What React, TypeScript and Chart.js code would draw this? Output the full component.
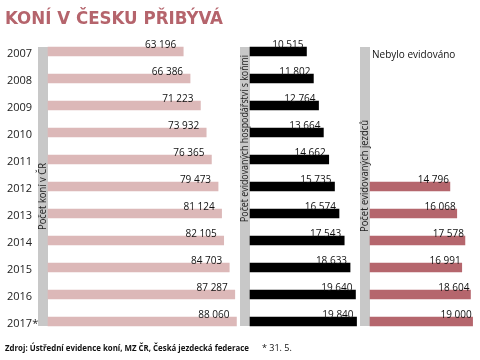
import React, { useEffect, useRef } from 'react';
import { Chart, registerables } from 'chart.js';

Chart.register(...registerables);

const years = ['2007', '2008', '2009', '2010', '2011', '2012', '2013', '2014', '2015', '2016', '2017*'];
const horses = [63196, 66386, 71223, 73932, 76365, 79473, 81124, 82105, 84703, 87287, 88060];
const farms = [10515, 11802, 12764, 13664, 14662, 15735, 16574, 17543, 18633, 19640, 19840];
const riders = [null, null, null, null, null, 14796, 16068, 17578, 16991, 18604, 19000];
const panelTitles = ['Počet koní v ČR', 'Počet evidovaných hospodářství s koňmi', 'Počet evidovaných jezdců'];
const chartTitle = 'KONÍ V ČESKU PŘIBÝVÁ';
const sourceText = 'Zdroj: Ústřední evidence koní, MZ ČR, Česká jezdecká federace';
const noteText = '* 31. 5.';
const missingText = 'Nebylo evidováno';

const FONT = '"Open Sans", "DejaVu Sans", sans-serif';
const BAR_T = 9;
const LABEL_OFFSETS = [7, 3, 1];
const TITLE_BOTTOMS = [230, 222, 232];
const TITLE_LENGTHS = [67, 167, 112];

const fmt = (n: number) => String(n).replace(/\B(?=(\d{3})+(?!\d))/g, ' ');

function fitText(ctx: CanvasRenderingContext2D, text: string, x: number, y: number, width: number) {
  const w = ctx.measureText(text).width;
  ctx.save();
  ctx.translate(x, y);
  ctx.scale(width / w, 1);
  ctx.fillText(text, 0, 0);
  ctx.restore();
}

const decor = {
  id: 'decor',
  beforeDatasetsDraw(chart: any) {
    const ctx = chart.ctx;
    const y = chart.scales.y;
    const top = y.getPixelForValue(0) - BAR_T / 2;
    const bottom = y.getPixelForValue(years.length - 1) + BAR_T / 2;
    ['x1', 'x2', 'x3'].forEach((id, i) => {
      const x0 = chart.scales[id].getPixelForValue(0);
      ctx.save();
      ctx.fillStyle = '#c8c8c8';
      ctx.fillRect(x0 - 10, top, 10, bottom - top);
      ctx.translate(x0 - 5, TITLE_BOTTOMS[i]);
      ctx.rotate(-Math.PI / 2);
      ctx.font = '10px ' + FONT;
      ctx.fillStyle = '#222';
      ctx.textAlign = 'left';
      ctx.textBaseline = 'middle';
      fitText(ctx, panelTitles[i], 0, 0.5, TITLE_LENGTHS[i]);
      ctx.restore();
    });
  },
  afterDatasetsDraw(chart: any) {
    const ctx = chart.ctx;
    ctx.save();
    ctx.font = '10px ' + FONT;
    ctx.fillStyle = '#111';
    ctx.textAlign = 'right';
    ctx.textBaseline = 'alphabetic';
    chart.data.datasets.forEach((ds: any, di: number) => {
      const meta = chart.getDatasetMeta(di);
      meta.data.forEach((el: any, i: number) => {
        const v = ds.data[i];
        if (v === null || v === undefined) return;
        ctx.fillText(fmt(v), el.x - LABEL_OFFSETS[di], el.y - BAR_T / 2 + 0.5);
      });
    });
    const x0 = chart.scales.x3.getPixelForValue(0);
    ctx.textAlign = 'left';
    ctx.fillText(missingText, x0 + 2, chart.scales.y.getPixelForValue(0) + 6);
    ctx.restore();
  },
  afterDraw(chart: any) {
    const ctx = chart.ctx;
    ctx.save();
    ctx.textAlign = 'left';
    ctx.textBaseline = 'alphabetic';
    ctx.fillStyle = '#b5646c';
    ctx.font = 'bold 17px "DejaVu Sans Condensed", "DejaVu Sans", sans-serif';
    fitText(ctx, chartTitle, 5, 24, 218);
    ctx.fillStyle = '#111';
    ctx.font = 'bold 8.5px ' + FONT;
    fitText(ctx, sourceText, 5, 351, 244);
    ctx.font = '9px ' + FONT;
    ctx.fillText(noteText, 262, 351);
    ctx.restore();
  },
};

export default function App() {
  const ref = useRef<HTMLCanvasElement>(null);
  useEffect(() => {
    if (!ref.current) return;
    const chart = new Chart(ref.current, {
      type: 'bar',
      data: {
        labels: years,
        datasets: [
          { data: horses, xAxisID: 'x1', backgroundColor: '#dcb8b8', grouped: false, barThickness: BAR_T } as any,
          { data: farms, xAxisID: 'x2', backgroundColor: '#000000', grouped: false, barThickness: BAR_T } as any,
          { data: riders, xAxisID: 'x3', backgroundColor: '#b5666d', grouped: false, barThickness: BAR_T } as any,
        ],
      },
      options: {
        indexAxis: 'y',
        animation: false,
        responsive: false,
        events: [],
        layout: { padding: { left: 7, right: 0, top: 38, bottom: 25 } },
        plugins: { legend: { display: false }, tooltip: { enabled: false }, title: { display: false } },
        scales: {
          y: {
            type: 'category',
            position: 'left',
            grid: { display: false },
            border: { display: false },
            ticks: { font: { size: 11, family: FONT }, color: '#222', crossAlign: 'far', padding: 0, labelOffset: 2 },
            afterFit: (s: any) => { s.width = 31; },
          },
          x1: { type: 'linear', axis: 'x', display: false, min: -4670, max: 201870 },
          x2: { type: 'linear', axis: 'x', display: false, min: -39480, max: 42830 },
          x3: { type: 'linear', axis: 'x', display: false, min: -61480, max: 20370 },
        },
      } as any,
      plugins: [decor],
    });
    return () => chart.destroy();
  }, []);
  return (
    <div style={{ position: 'absolute', left: 0, top: 0, width: 480, height: 360, background: '#fff' }}>
      <canvas ref={ref} width={480} height={360} />
    </div>
  );
}
